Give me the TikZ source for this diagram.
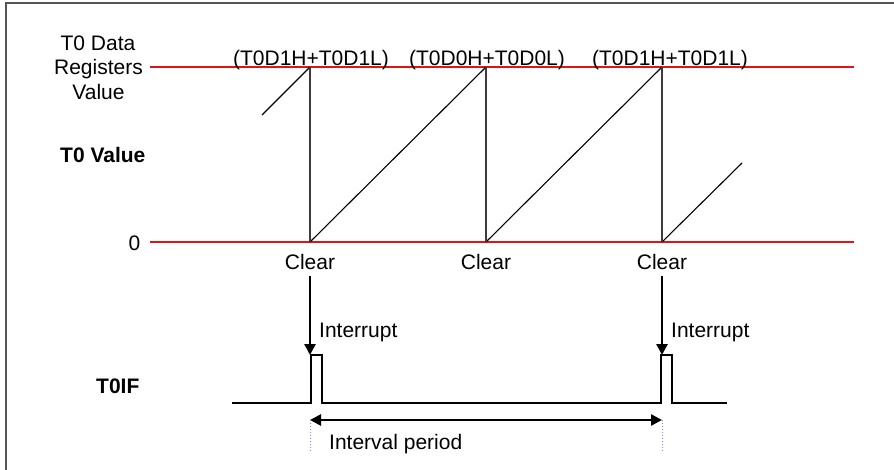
\documentclass[tikz,border=0pt]{standalone}
\usepackage{fontspec}
\setmainfont{Liberation Sans}
\usetikzlibrary{arrows.meta}
\definecolor{lvlred}{RGB}{225,20,20}
\definecolor{framegray}{RGB}{85,85,85}
\definecolor{dotblue}{RGB}{130,130,235}
\definecolor{vgray}{RGB}{60,60,60}
\tikzset{
  txt/.style={inner sep=0pt, font=\fontsize{21}{24.5}\selectfont},
  btxt/.style={txt, font=\fontsize{21}{24.5}\selectfont\bfseries},
  level/.style={draw=lvlred, line width=1.4pt},
  ramp/.style={draw=black, line width=1.1pt},
  drop/.style={draw=vgray, line width=1.4pt},
  pulse/.style={draw=black, line width=1.4pt},
  bigarrow/.style={draw=black, line width=2.6pt, -{Triangle[width=11pt,length=11pt]}},
  dblarrow/.style={draw=black, line width=2.6pt, {Triangle[width=11pt,length=11pt]}-{Triangle[width=11pt,length=11pt]}},
  guide/.style={draw=dotblue, line width=1pt, dotted},
}
\begin{document}
\begin{tikzpicture}[x=1pt,y=-1pt]
\useasboundingbox (0,0) rectangle (894,470);
% frame
\draw[framegray, line width=1.6pt] (6,470) -- (6,3) -- (894,3);

% level lines
\coordinate (topL) at (150,67);
\coordinate (topR) at (854,67);
\coordinate (botL) at (150,242);
\coordinate (botR) at (854,242);
\draw[level] (topL) -- (topR);
\draw[level] (botL) -- (botR);

% left labels
\node[txt, anchor=base] (l1) at (98,51) {T0 Data};
\node[txt, anchor=base] (l2) at (98.5,75) {Registers};
\node[txt, anchor=base] (l3) at (98.5,100) {Value};
\node[btxt, anchor=base west] (tv) at (60,163) {T0 Value};
\node[txt, anchor=base] (zero) at (134.5,251) {0};
\node[btxt, anchor=base west] (tif) at (96,393) {T0IF};

% value labels
\node[txt, anchor=base] (v1) at (311,66) {(T0D1H+T0D1L)};
\node[txt, anchor=base] (v2) at (487,66) {(T0D0H+T0D0L)};
\node[txt, anchor=base] (v3) at (670,66) {(T0D1H+T0D1L)};

% sawtooth
\coordinate (s0) at (262,115);
\coordinate (t1) at (310,67);
\coordinate (b1) at (310,242);
\coordinate (t2) at (486,67);
\coordinate (b2) at (486,242);
\coordinate (t3) at (662,67);
\coordinate (b3) at (662,242);
\coordinate (s4) at (742,163);
\draw[ramp] (s0) -- (t1);
\draw[ramp] (b1) -- (t2);
\draw[ramp] (b2) -- (t3);
\draw[ramp] (b3) -- (s4);
\draw[drop] (t1) -- (b1);
\draw[drop] (t2) -- (b2);
\draw[drop] (t3) -- (b3);

% clear labels
\node[txt, anchor=base] (c1) at (310,270) {Clear};
\node[txt, anchor=base] (c2) at (486,270) {Clear};
\node[txt, anchor=base] (c3) at (662,270) {Clear};

% interrupt arrows
\coordinate (a1s) at (310,276);
\coordinate (a1e) at (310,355);
\coordinate (a3s) at (662,276);
\coordinate (a3e) at (662,355);
\draw[bigarrow] (a1s) -- (a1e);
\draw[bigarrow] (a3s) -- (a3e);
\node[txt, anchor=base west] (i1) at (319,337) {Interrupt};
\node[txt, anchor=base west] (i2) at (671,337) {Interrupt};

% T0IF pulse train
\draw[pulse] (232,403) -- (311,403) -- (311,355) -- (322,355) -- (322,403)
  -- (661,403) -- (661,355) -- (672,355) -- (672,403) -- (727,403);

% interval
\coordinate (pL) at (310,420);
\coordinate (pR) at (662,420);
\draw[dblarrow] (pL) -- (pR);
\coordinate (gL) at (310,451);
\coordinate (gR) at (662,451);
\draw[guide] (pL) -- (gL);
\draw[guide] (pR) -- (gR);
\node[txt, anchor=base west] (ip) at (329,449) {Interval period};
\end{tikzpicture}
\end{document}
